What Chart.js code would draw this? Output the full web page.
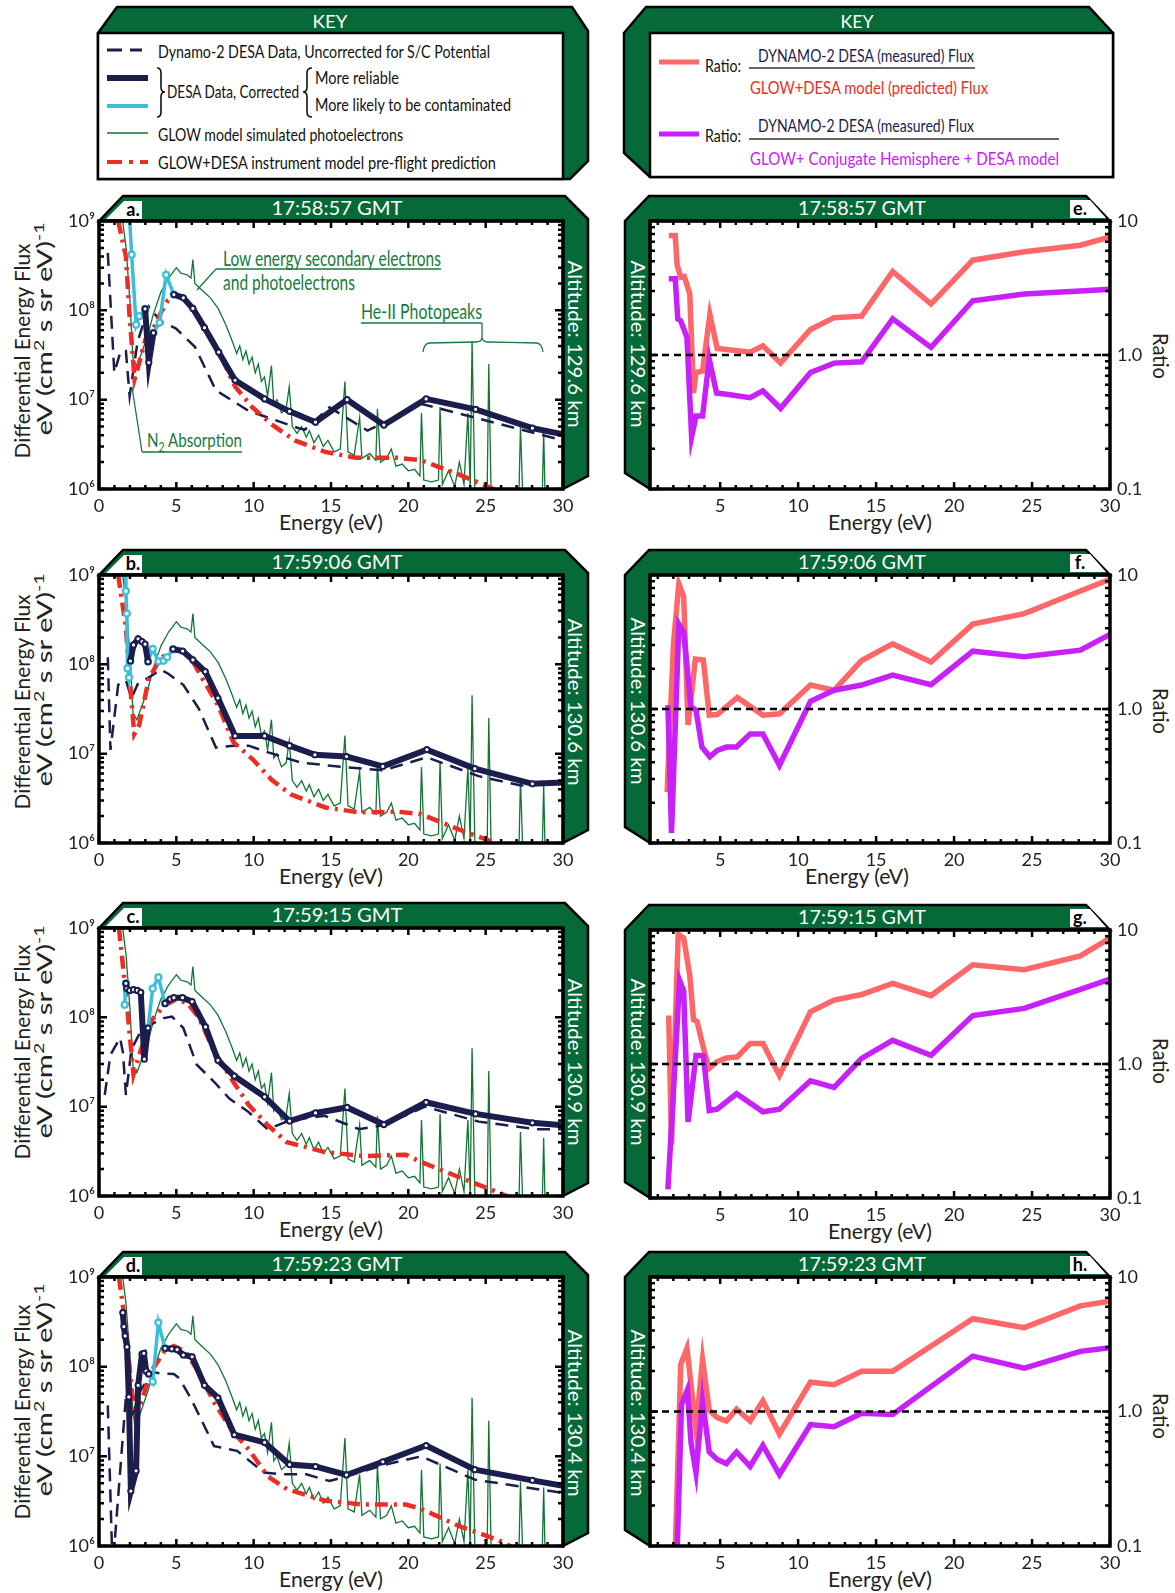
<!DOCTYPE html>
<html><head><meta charset="utf-8">
<script src="https://cdn.jsdelivr.net/npm/chart.js@4.4.1/dist/chart.umd.min.js"></script>
<style>
html,body{margin:0;padding:0;background:#fff;}
#wrap{position:relative;width:1175px;height:1593px;overflow:hidden;background:#fff;}
#bg{position:absolute;left:0;top:0;}
canvas{position:absolute;}
</style></head><body>
<div id="wrap"><svg id="bg" width="1175" height="1593" xmlns="http://www.w3.org/2000/svg"></svg></div>
<script>
// ---------------- DATA ----------------
const energyTicks = [0, 5, 10, 15, 20, 25, 30];
const ratioETicks = [5, 10, 15, 20, 25, 30];
const fluxTicks = [1e6, 1e7, 1e8, 1e9];
const fluxTickLabels = ['10⁶', '10⁷', '10⁸', '10⁹'];
const ratioTicks = [0.1, 1, 10];
const ratioTickLabels = ['0.1', '1.0', '10'];

const times = ['17:58:57 GMT', '17:59:06 GMT', '17:59:15 GMT', '17:59:23 GMT'];
const altitudes = ['Altitude: 129.6 km', 'Altitude: 130.6 km', 'Altitude: 130.9 km', 'Altitude: 130.4 km'];
const leftLetters = ['a.', 'b.', 'c.', 'd.'];
const rightLetters = ['e.', 'f.', 'g.', 'h.'];

// GLOW model simulated photoelectrons (same model curve in all four flux panels)
const greenE = [1.5, 1.75, 2.0, 2.2, 2.45, 2.8, 3.2, 3.5, 4.0, 4.5, 5.0, 5.3, 5.7, 5.95, 6.07, 6.2, 6.7, 7.2, 7.7, 8.2, 8.6, 8.9, 9.1, 9.3, 9.5, 9.7, 9.9, 10.1, 10.3, 10.5, 10.7, 10.9, 11.15, 11.3, 11.5, 11.8, 12.1, 12.3, 12.5, 12.8, 13.1, 13.4, 13.6, 13.9, 14.2, 14.5, 14.8, 15.2, 15.6, 15.9, 16.1, 16.5, 16.85, 17.0, 17.5, 17.9, 18.0, 18.2, 18.6, 18.9, 19.2, 19.6, 20.0, 20.4, 20.75, 20.85, 21.0, 21.5, 21.95, 22.05, 22.2, 22.6, 23.0, 23.3, 23.6, 23.85, 24.0, 24.12, 24.3, 24.7, 25.1, 25.2, 25.35, 25.8, 26.3, 26.8, 27.15, 27.25, 27.4, 28.0, 28.65, 28.75, 28.85, 30];
const greenF = [1.1e9, 5.0e8, 1.26e8, 2.8e7, 2.4e7, 3.5e7, 5.6e7, 8.9e7, 1.6e8, 2.3e8, 3.0e8, 2.6e8, 2.5e8, 2.3e8, 3.7e8, 2.0e8, 1.66e8, 1.38e8, 1.05e8, 6.9e7, 4.6e7, 3.3e7, 4.0e7, 2.8e7, 3.5e7, 2.5e7, 3.0e7, 2.0e7, 2.5e7, 1.6e7, 1.8e7, 1.1e7, 2.4e7, 8.9e6, 1.0e7, 7.1e6, 7.9e6, 1.4e7, 5.0e6, 4.2e6, 5.0e6, 3.8e6, 4.5e6, 3.3e6, 4.0e6, 3.0e6, 3.5e6, 2.6e6, 2.8e6, 1.6e7, 2.6e6, 2.4e6, 6.3e6, 2.2e6, 2.5e6, 2.1e6, 7.9e6, 2.0e6, 2.2e6, 2.8e6, 1.8e6, 1.9e6, 1.6e6, 1.66e6, 1.4e6, 7.1e6, 1.26e6, 1.2e6, 1.26e6, 8.3e6, 1.12e6, 1.6e6, 1.07e6, 2.0e6, 1.12e6, 7.1e6, 1.0e6, 4.5e7, 1.0e6, 9.5e5, 1.0e6, 2.5e7, 9.3e5, 8.9e5, 9.5e5, 8.9e5, 8.3e5, 5.2e6, 7.9e5, 7.9e5, 7.1e5, 4.5e6, 7.1e5, 6.3e5];

// Panel a
const aDashE = [0.57, 0.99, 1.4, 1.74, 1.98, 2.5, 3.22, 4.0, 4.96, 6.2, 7.56, 9.67, 12.9, 13.3, 14.9, 17.36, 19.1, 20.8, 24.3, 30];
const aDashF = [4.4e8, 2.0e7, 3.5e7, 3.5e7, 1.1e7, 4.5e7, 1.1e8, 7.5e7, 6.3e7, 3.9e7, 1.27e7, 7.5e6, 4.8e6, 4.6e6, 8.2e6, 4.5e6, 6.3e6, 9.0e6, 6.3e6, 3.5e6];
const aNavyE = [2.98, 3.22, 3.52, 4.2, 4.84, 5.45, 6.07, 6.82, 7.74, 8.80, 10.71, 12.32, 14.0, 16.04, 18.42, 21.15, 24.35, 28.02, 30.0];
const aNavyF = [1.04e8, 2.6e7, 5.6e7, null, 1.5e8, 1.38e8, 1.05e8, 6.4e7, 3.4e7, 1.65e7, 1.02e7, 7.4e6, 5.6e6, 1.0e7, 5.2e6, 1.02e7, 7.8e6, 4.8e6, 4.1e6];
const aCyanE = [1.95, 2.11, 2.40, 2.60, 2.98, 3.3, 3.52, 3.92, 4.34, 4.84];
const aCyanF = [1.3e9, 4.2e8, 6.9e7, 8.6e7, 1.04e8, null, 5.6e7, 7.3e7, 2.5e8, 1.5e8];
const aRedE = [1.24, 1.74, 1.98, 2.3, 2.6, 3.0, 3.47, 4.0, 4.46, 4.96, 5.5, 6.45, 7.69, 8.8, 9.92, 11.16, 12.65, 14.63, 16.6, 19.3, 20.8, 23.3, 25.5, 26.5];
const aRedF = [1.0e9, 4.0e8, 8.5e7, 1.7e7, 2.6e7, 4.7e7, 6.0e7, 9.4e7, 1.3e8, 1.5e8, 1.4e8, 8.5e7, 3.6e7, 1.4e7, 8.2e6, 5.3e6, 3.5e6, 2.6e6, 2.24e6, 2.24e6, 2.1e6, 1.45e6, 1.0e6, 8.5e5];

// Panel b
const bDashE = [0.57, 0.74, 1.24, 1.74, 2.1, 2.5, 3.47, 3.97, 4.46, 5.45, 6.45, 7.56, 8.68, 9.67, 10.9, 13.1, 15.8, 18.35, 21.2, 24.55, 27.3, 30];
const bDashF = [1.2e8, 1.1e7, 5.9e7, 6.6e7, 4.2e7, 6.0e7, 7.6e7, 8.7e7, 7.9e7, 5.9e7, 3.2e7, 1.17e7, 1.23e7, 1.23e7, 1.04e7, 7.9e6, 7.1e6, 6.5e6, 9.1e6, 5.6e6, 4.4e6, 4.7e6];
const bNavyE = [2.03, 2.23, 2.53, 2.78, 2.98, 3.17, 4.0, 4.79, 5.41, 6.07, 6.87, 7.69, 8.80, 10.71, 12.32, 13.96, 16.0, 18.35, 21.2, 24.3, 28.02, 30];
const bNavyF = [1.09e8, 1.65e8, 1.93e8, 1.8e8, 1.68e8, 1.07e8, null, 1.48e8, 1.41e8, 1.12e8, 8.3e7, 4.2e7, 1.58e7, 1.58e7, 1.23e7, 9.7e6, 9.3e6, 7.2e6, 1.11e7, 6.8e6, 4.6e6, 4.75e6];
const bCyanE = [1.72, 1.74, 1.80, 1.84, 1.94, 2.03, 2.6, 3.17, 3.47, 3.85, 4.17, 4.4, 4.79];
const bCyanF = [1.3e9, 6.6e8, 3.7e8, 9.0e7, 7.1e7, 1.09e8, null, 1.07e8, 1.49e8, 1.08e8, 1.1e8, 1.2e8, 1.48e8];
const bRedE = [1.24, 1.74, 1.98, 2.28, 2.6, 3.22, 3.97, 4.71, 5.21, 5.95, 6.69, 7.69, 8.68, 9.92, 11.16, 12.4, 14.63, 16.86, 19.34, 20.83, 23.3, 25.66, 26.5];
const bRedF = [1.0e9, 2.6e8, 6.9e7, 1.66e7, 2.1e7, 6.9e7, 1.17e8, 1.41e8, 1.45e8, 1.17e8, 6.9e7, 3.5e7, 1.35e7, 8.7e6, 5.1e6, 3.5e6, 2.5e6, 2.2e6, 2.24e6, 2.1e6, 1.41e6, 1.0e6, 8.9e5];

// Panel c
const cDashE = [0.37, 0.74, 1.36, 1.55, 1.74, 2.1, 2.7, 3.47, 4.2, 4.71, 5.45, 6.32, 7.44, 8.43, 9.67, 10.9, 12.4, 14.6, 16.8, 18.35, 21.08, 24.55, 28.26, 30];
const cDashF = [1.35e7, 3.8e7, 5.9e7, 4.0e7, 1.35e7, 4.4e7, 7.0e7, 8.5e7, 9.8e7, 1.02e8, 7.6e7, 2.95e7, 1.9e7, 1.23e7, 8.7e6, 5.6e6, 7.1e6, 7.9e6, 5.6e6, 6.2e6, 1.0e7, 6.8e6, 5.6e6, 5.6e6];
const cNavyE = [1.74, 1.80, 1.98, 2.23, 2.48, 2.7, 2.93, 3.17, 3.7, 4.27, 4.6, 4.84, 5.4, 6.02, 6.89, 7.69, 8.75, 10.71, 12.32, 14.0, 16.04, 18.42, 21.15, 24.35, 28.02, 30];
const cNavyF = [2.4e8, 2.1e8, 2.0e8, 2.04e8, 2.0e8, 1.9e8, 3.4e7, 7.6e7, null, 1.43e8, 1.6e8, 1.66e8, 1.66e8, 1.5e8, 7.8e7, 3.3e7, 2.2e7, 1.29e7, 6.9e6, 8.5e6, 9.8e6, 6.3e6, 1.12e7, 8.3e6, 6.6e6, 6.2e6];
const cCyanE = [1.66, 1.74, 2.5, 3.17, 3.47, 3.84, 4.27];
const cCyanF = [1.38e8, 2.4e8, null, 7.6e7, 2.1e8, 2.8e8, 1.43e8];
const cRedE = [1.29, 1.74, 2.23, 2.6, 3.35, 4.22, 4.96, 5.7, 6.45, 7.44, 8.68, 9.67, 10.91, 12.15, 14.63, 17.1, 19.84, 20.83, 23.3, 25.8, 26.9];
const cRedF = [1.0e9, 1.82e8, 2.3e7, 3.8e7, 9.1e7, 1.35e8, 1.58e8, 1.45e8, 1.0e8, 4.2e7, 1.9e7, 1.05e7, 6.2e6, 4.0e6, 3.1e6, 2.8e6, 2.9e6, 2.4e6, 1.62e6, 1.1e6, 9.1e5];

// Panel d
const dDashE = [0.57, 0.85, 0.95, 1.74, 2.1, 2.7, 3.47, 3.97, 4.84, 5.2, 5.95, 7.44, 8.93, 10.66, 11.9, 13.4, 14.9, 16.0, 18.4, 20.83, 24.3, 30];
const dDashF = [3.7e7, 8e5, 8e5, 4.6e7, 2.6e7, 5.5e7, 8.7e7, 8.4e7, 8.3e7, 7.4e7, 4.4e7, 1.3e7, 1.15e7, 6.6e6, 6.3e6, 6.3e6, 5.3e6, 6.0e6, 8.0e6, 1.0e7, 5.5e6, 3.9e6];
const dNavyE = [1.54, 1.61, 1.69, 1.81, 1.93, 2.06, 2.40, 2.53, 2.78, 2.90, 3.05, 3.22, 3.8, 4.27, 4.71, 5.05, 5.45, 6.02, 6.82, 7.69, 8.75, 10.71, 12.32, 14.0, 16.0, 18.35, 21.15, 24.3, 28.02, 30];
const dNavyF = [4.0e8, 2.8e8, 2.2e8, 1.66e8, 4.6e7, 4.1e6, 6.9e6, 6.2e7, 1.38e8, 1.41e8, 8.9e7, 8.3e7, null, 1.6e8, 1.58e8, 1.55e8, 1.35e8, 1.29e8, 6.2e7, 4.5e7, 1.74e7, 1.43e7, 8.1e6, 7.7e6, 6.2e6, 8.7e6, 1.32e7, 7.1e6, 5.4e6, 4.7e6];
const dCyanE = [3.22, 3.47, 3.84, 4.27];
const dCyanF = [8.3e7, 6.8e7, 3.1e8, 1.6e8];
const dRedE = [1.29, 1.74, 2.1, 2.36, 2.73, 3.35, 4.22, 4.84, 5.58, 6.45, 7.44, 8.68, 9.67, 10.91, 12.15, 14.63, 17.1, 19.84, 20.83, 23.3, 25.8, 26.9];
const dRedF = [1.0e9, 2.7e8, 5.8e7, 2.6e7, 4.0e7, 8.7e7, 1.48e8, 1.7e8, 1.48e8, 8.7e7, 4.0e7, 1.86e7, 1.2e7, 6.0e6, 4.3e6, 3.2e6, 2.9e6, 2.9e6, 2.6e6, 1.66e6, 1.17e6, 9.3e5];

// Ratio panels
const refE = [0.5, 30];
const refR = [1, 1];
const eSalE = [1.70, 2.0, 2.12, 2.24, 2.47, 2.7, 3.05, 3.29, 3.45, 3.87, 4.34, 4.81, 5.4, 6.92, 7.74, 8.87, 10.79, 12.3, 14.07, 16.06, 18.52, 21.2, 24.5, 28.1, 30];
const eSalR = [7.8, 7.8, 7.8, 4.7, 3.8, 3.85, 2.85, 0.52, 0.74, 0.76, 2.0, 1.12, 1.1, 1.05, 1.17, 0.87, 1.55, 1.9, 1.95, 4.2, 2.4, 5.1, 5.9, 6.6, 7.6];
const ePurE = [1.70, 2.12, 2.28, 2.47, 2.87, 3.17, 3.45, 3.87, 4.3, 4.77, 5.4, 6.92, 7.74, 8.87, 10.79, 12.3, 14.07, 16.06, 18.52, 21.2, 24.5, 28.1, 30];
const ePurR = [3.7, 3.7, 1.86, 1.8, 1.35, 0.245, 0.35, 0.35, 0.93, 0.52, 0.51, 0.48, 0.54, 0.40, 0.74, 0.87, 0.89, 1.86, 1.14, 2.54, 2.85, 3.0, 3.1];
const fSalE = [1.60, 2.0, 2.35, 2.66, 2.94, 3.41, 3.92, 4.3, 4.81, 6.1, 7.74, 8.8, 10.79, 12.3, 14.07, 16.06, 18.52, 21.2, 24.5, 28.1, 30];
const fSalR = [0.24, 3.0, 8.6, 6.9, 0.76, 2.36, 2.32, 0.90, 0.91, 1.22, 0.90, 0.92, 1.51, 1.38, 2.3, 3.06, 2.24, 4.3, 5.15, 7.6, 9.3];
const fPurE = [1.65, 1.88, 2.35, 2.66, 3.13, 3.45, 3.83, 4.34, 4.81, 5.4, 6.05, 6.92, 7.74, 8.8, 10.79, 12.3, 14.07, 16.06, 18.52, 21.2, 24.5, 28.1, 30];
const fPurR = [1.07, 0.119, 4.3, 3.75, 1.04, 0.98, 0.52, 0.44, 0.49, 0.52, 0.52, 0.65, 0.65, 0.38, 1.14, 1.38, 1.51, 1.79, 1.52, 2.7, 2.45, 2.75, 3.6];
const gSalE = [1.70, 1.88, 2.31, 2.66, 3.05, 3.29, 3.52, 3.99, 4.3, 4.81, 5.4, 6.1, 6.92, 7.74, 8.8, 10.79, 12.3, 14.07, 16.06, 18.52, 21.2, 24.5, 28.1, 30];
const gSalR = [2.3, 0.25, 9.3, 8.7, 4.6, 2.14, 2.07, 1.23, 0.93, 1.04, 1.11, 1.13, 1.42, 1.42, 0.82, 2.45, 3.0, 3.3, 4.0, 3.24, 5.5, 5.05, 6.4, 8.7];
const gPurE = [1.65, 2.4, 2.66, 2.94, 3.45, 3.92, 4.3, 4.81, 6.05, 7.74, 8.8, 10.79, 12.3, 14.07, 16.06, 18.52, 21.2, 24.5, 28.1, 30];
const gPurR = [0.116, 4.2, 3.5, 0.37, 1.16, 1.15, 0.45, 0.46, 0.6, 0.44, 0.46, 0.75, 0.67, 1.1, 1.5, 1.16, 2.3, 2.6, 3.6, 4.3];
const hSalE = [2.12, 2.47, 2.87, 3.45, 3.87, 4.3, 4.81, 5.4, 6.05, 6.92, 7.74, 8.8, 10.79, 12.3, 14.07, 16.06, 21.2, 24.5, 28.1, 30];
const hSalR = [0.09, 2.24, 2.95, 0.74, 2.43, 1.02, 0.9, 0.85, 1.04, 0.85, 1.2, 0.68, 1.65, 1.58, 1.99, 1.99, 4.9, 4.2, 6.1, 6.6];
const hPurE = [2.24, 2.52, 2.9, 3.13, 3.45, 3.87, 4.3, 4.81, 5.4, 6.05, 6.92, 7.74, 8.8, 10.79, 12.3, 14.07, 16.06, 21.2, 24.5, 28.1, 30];
const hPurR = [0.09, 1.12, 1.45, 0.59, 0.35, 1.2, 0.50, 0.44, 0.41, 0.50, 0.39, 0.56, 0.34, 0.80, 0.77, 0.97, 0.95, 2.58, 2.1, 2.8, 2.98];

// ---------------- STYLE ----------------
const FONT = "Lato, 'DejaVu Sans', sans-serif";
const GREENF = '#056a38';
const NAVY = '#1b1d4d';
const CYAN = '#3bbfd8';
const GLINE = '#127534';
const RED = '#ec2c25';
const SALMON = '#fd6767';
const PURPLE = '#c820f8';
const AGREEN = '#167a3c';
const TXT = '#222';

const wrap = document.getElementById('wrap');
const svg = document.getElementById('bg');
const NS = 'http://www.w3.org/2000/svg';

function el(tag, attrs, parent) {
  const e = document.createElementNS(NS, tag);
  for (const k in attrs) e.setAttribute(k, attrs[k]);
  (parent || svg).appendChild(e);
  return e;
}
function poly(points, fill, stroke, sw) {
  return el('polygon', {points: points.map(p => p.join(',')).join(' '), fill: fill, stroke: stroke, 'stroke-width': sw, 'stroke-linejoin': 'miter'});
}
function line(x1, y1, x2, y2, stroke, sw, dash) {
  const a = {x1, y1, x2, y2, stroke, 'stroke-width': sw};
  if (dash) a['stroke-dasharray'] = dash;
  return el('line', a);
}
function path(d, stroke, sw) { return el('path', {d, stroke, 'stroke-width': sw, fill: 'none'}); }
function text(x, y, segs, o) {
  o = o || {};
  const a = {'font-family': FONT, 'font-size': o.size || 18, fill: o.fill || TXT};
  if (o.anchor) a['text-anchor'] = o.anchor;
  if (o.weight) a['font-weight'] = o.weight;
  if (o.len) { a.textLength = o.len; a.lengthAdjust = 'spacingAndGlyphs'; }
  if (o.rot) { a.transform = `translate(${x},${y}) rotate(${o.rot})`; a.x = 0; a.y = 0; }
  else { a.x = x; a.y = y; }
  const t = el('text', a);
  if (typeof segs === 'string') t.textContent = segs;
  else segs.forEach(s => {
    const ts = document.createElementNS(NS, 'tspan');
    if (s.dy) ts.setAttribute('dy', s.dy);
    if (s.size) ts.setAttribute('font-size', s.size);
    ts.textContent = s.t;
    t.appendChild(ts);
  });
  return t;
}

// ---------------- KEYS ----------------
poly([[98,33],[117,7],[572,7],[588,31],[588,161],[570,179],[98,179]], GREENF, '#000', 2.5);
el('rect', {x: 98, y: 33, width: 465, height: 146, fill: '#fff', stroke: '#000', 'stroke-width': 2.5});
text(330, 28, 'KEY', {size: 18, fill: '#fff', anchor: 'middle', len: 35});
line(107, 50, 142, 50, NAVY, 3, '15,8');
line(107, 78, 148, 78, NAVY, 6);
line(107, 106, 148, 106, CYAN, 4);
line(107, 133, 148, 133, GLINE, 1.5);
line(107, 162, 148, 162, RED, 4, '15,7,4,7');
text(158, 58, 'Dynamo-2 DESA Data, Uncorrected for S/C Potential', {size: 18, len: 332, fill: '#111'});
path('M157,68 Q161,68 161,73 L161,87 Q161,92 165,92 Q161,92 161,97 L161,112 Q161,117 157,117', '#111', 1.6);
text(167, 98, 'DESA Data, Corrected', {size: 18, len: 132, fill: '#111'});
path('M312,68 Q307,68 307,73 L307,87 Q307,92 303,92 Q307,92 307,97 L307,112 Q307,117 312,117', '#111', 1.6);
text(315, 84, 'More reliable', {size: 18, len: 84, fill: '#111'});
text(315, 111, 'More likely to be contaminated', {size: 18, len: 196, fill: '#111'});
text(158, 141, 'GLOW model simulated photoelectrons', {size: 18, len: 245, fill: '#111'});
text(158, 169, 'GLOW+DESA instrument model pre-flight prediction', {size: 18, len: 338, fill: '#111'});

poly([[624,33],[646,7],[1089,7],[1113,33],[1113,177],[650,177],[624,153]], GREENF, '#000', 2.5);
el('rect', {x: 650, y: 33, width: 463, height: 144, fill: '#fff', stroke: '#000', 'stroke-width': 2.5});
text(857, 28, 'KEY', {size: 18, fill: '#fff', anchor: 'middle', len: 33});
line(659, 62, 699, 62, SALMON, 5);
line(659, 134, 699, 134, PURPLE, 5);
text(705, 72, 'Ratio:', {size: 18, len: 36, fill: '#111'});
text(758, 62, 'DYNAMO-2 DESA (measured) Flux', {size: 18, len: 216, fill: NAVY});
line(749, 68, 975, 68, '#333', 1.3);
text(750, 94, 'GLOW+DESA model (predicted) Flux', {size: 18, len: 238, fill: RED});
text(705, 142, 'Ratio:', {size: 18, len: 36, fill: '#111'});
text(758, 132, 'DYNAMO-2 DESA (measured) Flux', {size: 18, len: 216, fill: NAVY});
line(749, 139, 1059, 139, '#333', 1.3);
text(750, 165, 'GLOW+ Conjugate Hemisphere + DESA model', {size: 18, len: 309, fill: PURPLE});

// ---------------- PANELS ----------------
const leftPanels = [
  {L: 99, R: 563, T: 221, B: 489, altC: 123, y1C: 130, y2C: 108},
  {L: 99, R: 563, T: 575, B: 843, altC: 127, y1C: 127, y2C: 105},
  {L: 99, R: 563, T: 928, B: 1196, altC: 134, y1C: 124, y2C: 104},
  {L: 99, R: 563, T: 1277, B: 1546, altC: 136, y1C: 135, y2C: 113},
];
const rightPanels = [
  {L: 650, R: 1110, T: 221, B: 489, altC: 123, ratC: 135, exC: 880},
  {L: 650, R: 1110, T: 575, B: 843, altC: 126, ratC: 136, exC: 857},
  {L: 650, R: 1110, T: 930, B: 1198, altC: 132, ratC: 131, exC: 880},
  {L: 650, R: 1110, T: 1277, B: 1546, altC: 136, ratC: 139, exC: 880},
];

function leftFrame(p, i) {
  const {L, R, T, B} = p;
  poly([[L,T],[L+24,T-25],[R+2,T-25],[R+25,T-2],[R+25,B-13],[R,B],[R,T]], GREENF, '#000', 2.5);
  poly([[L+7,T-2],[L+25,T-20],[L+43,T-20],[L+43,T-2]], '#fff', 'none', 0);
  text(L+34, T-5, leftLetters[i], {size: 18, weight: 'bold', fill: '#000', anchor: 'middle'});
  text(L+238, T-6, times[i], {size: 19, fill: '#fff', anchor: 'middle', len: 131});
  text(R+5, T+p.altC, altitudes[i], {size: 19, fill: '#fff', anchor: 'middle', rot: 90, len: 167});
  text(30, T+p.y1C, 'Differential Energy Flux', {size: 21, anchor: 'middle', rot: -90, len: 215});
  text(52, T+p.y2C, [{t: 'eV (cm'}, {t: '2', dy: -8, size: 14}, {t: ' s sr eV)', dy: 8}, {t: '-1', dy: -8, size: 14}], {size: 21, anchor: 'middle', rot: -90, len: 213});
  text(331, B+41, 'Energy (eV)', {size: 21, anchor: 'middle', len: 104});
}
function rightFrame(p, i) {
  const {L, R, T, B} = p;
  poly([[L,B],[L-25,B-16],[L-25,T],[L-1,T-25],[R-24,T-25],[R,T],[L,T]], GREENF, '#000', 2.5);
  poly([[R-40,T-21],[R-20,T-21],[R-4,T-3],[R-40,T-3]], '#fff', 'none', 0);
  text(R-30, T-6, rightLetters[i], {size: 18, weight: 'bold', fill: '#000', anchor: 'middle'});
  text(L+212, T-6, times[i], {size: 19, fill: '#fff', anchor: 'middle', len: 128});
  text(L-19, T+p.altC, altitudes[i], {size: 19, fill: '#fff', anchor: 'middle', rot: 90, len: 167});
  text(1153, T+p.ratC, 'Ratio', {size: 21, anchor: 'middle', rot: 90, len: 46});
  text(p.exC, B+41, 'Energy (eV)', {size: 21, anchor: 'middle', len: 104});
}
leftPanels.forEach(leftFrame);
rightPanels.forEach(rightFrame);

// annotations (panel a)
text(223, 266, 'Low energy secondary electrons', {size: 21, fill: AGREEN, len: 218});
text(223, 290, 'and photoelectrons', {size: 21, fill: AGREEN, len: 132});
line(216, 269, 441, 269, AGREEN, 1.3);
line(197, 290, 216, 269, AGREEN, 1.3);
text(361, 319, 'He-II Photopeaks', {size: 21, fill: AGREEN, len: 121});
line(361, 323, 482, 323, AGREEN, 1.3);
path('M482,323 L482,337 Q482,342 476,342 L429,343 Q424,344 423,352 M482,337 Q482,342 488,342 L537,343 Q542,344 543,352', AGREEN, 1.3);
text(147, 447, [{t: 'N'}, {t: '2', dy: 5, size: 14}, {t: ' Absorption', dy: -5}], {size: 20, fill: AGREEN, len: 95});
line(142, 452, 242, 452, AGREEN, 1.3);
line(132, 387, 142, 452, AGREEN, 1.3);

// ---------------- CHARTS ----------------
function pts(E, V) { return E.map((e, i) => ({x: e, y: V[i]})); }

const inTicks = {
  id: 'inTicks',
  afterDatasetsDraw(chart) {
    const {ctx, chartArea: a} = chart;
    const xs = chart.scales.x, ys = chart.scales.y;
    ctx.save();
    ctx.strokeStyle = '#000'; ctx.lineWidth = 2.5; ctx.lineCap = 'butt';
    ctx.beginPath();
    for (let v = Math.ceil(xs.min); v <= xs.max; v++) {
      const px = xs.getPixelForValue(v);
      const len = v % 5 === 0 ? 7 : 4;
      ctx.moveTo(px, a.bottom); ctx.lineTo(px, a.bottom - len);
      ctx.moveTo(px, a.top); ctx.lineTo(px, a.top + len);
    }
    const d0 = Math.round(Math.log10(ys.min)), d1 = Math.round(Math.log10(ys.max));
    for (let d = d0; d < d1; d++) {
      for (let k = 1; k <= 9; k++) {
        const py = ys.getPixelForValue(k * Math.pow(10, d));
        const len = k === 1 ? 8 : 5;
        ctx.moveTo(a.left, py); ctx.lineTo(a.left + len, py);
        ctx.moveTo(a.right, py); ctx.lineTo(a.right - len, py);
      }
    }
    ctx.stroke();
    ctx.lineWidth = 3.5;
    ctx.strokeRect(a.left, a.top, a.right - a.left, a.bottom - a.top);
    ctx.restore();
  }
};

function makeCanvas(left, top, w, h) {
  const c = document.createElement('canvas');
  c.width = w; c.height = h;
  c.style.left = left + 'px'; c.style.top = top + 'px';
  c.style.width = w + 'px'; c.style.height = h + 'px';
  wrap.appendChild(c);
  return c;
}
const tickFont = {family: FONT, size: 18};
const common = {responsive: false, animation: false, devicePixelRatio: 1, events: [],
  plugins: {legend: {display: false}, tooltip: {enabled: false}}};
const lineDefaults = {tension: 0, clip: 0, spanGaps: false, borderJoinStyle: 'miter', borderCapStyle: 'butt', pointHoverRadius: 0};

function fluxChart(p, d) {
  const W = 600, padTop = 40, xH = 48;
  const H = padTop + (p.B - p.T) + xH;
  const c = makeCanvas(0, p.T - padTop, W, H);
  const mk = (o) => Object.assign({}, lineDefaults, o);
  new Chart(c, {
    type: 'line',
    data: {datasets: [
      mk({data: pts(d.navyE, d.navyF), borderColor: NAVY, borderWidth: 6, pointRadius: ctx => (ctx.raw && ctx.raw.x >= 30) ? 0 : 2.6, pointBorderWidth: 2, pointBorderColor: NAVY, pointBackgroundColor: '#fff', order: 1}),
      mk({data: pts(d.cyanE, d.cyanF), borderColor: CYAN, borderWidth: 3.5, pointRadius: 3, pointBorderWidth: 2.2, pointBorderColor: CYAN, pointBackgroundColor: '#fff', order: 2}),
      mk({data: pts(d.redE, d.redF), borderColor: RED, borderWidth: 4.5, borderDash: [13, 6, 3, 6], pointRadius: 0, order: 3}),
      mk({data: pts(d.dashE, d.dashF), borderColor: NAVY, borderWidth: 2.5, borderDash: [13, 8], pointRadius: 0, order: 4}),
      mk({data: pts(greenE, greenF), borderColor: GLINE, borderWidth: 1.3, pointRadius: 0, order: 5}),
    ]},
    options: Object.assign({}, common, {
      layout: {padding: {left: 0, right: W - p.R, top: padTop, bottom: 0}},
      scales: {
        x: {type: 'linear', min: 0, max: 30, position: 'bottom',
            afterFit: s => { s.height = xH; },
            afterBuildTicks: s => { s.ticks = energyTicks.map(v => ({value: v})); },
            grid: {display: false, drawTicks: false}, border: {display: false},
            ticks: {font: tickFont, color: TXT, padding: 6, maxRotation: 0, autoSkip: false, callback: v => String(v)}},
        y: {type: 'logarithmic', min: 1e6, max: 1e9, position: 'left',
            afterFit: s => { s.width = p.L; },
            afterBuildTicks: s => { s.ticks = fluxTicks.map(v => ({value: v})); },
            grid: {display: false, drawTicks: false}, border: {display: false},
            ticks: {font: tickFont, color: TXT, padding: 4, autoSkip: false,
                    callback: v => { const i = fluxTicks.findIndex(t => Math.abs(t - v) / t < 1e-6); return i >= 0 ? fluxTickLabels[i] : ''; }}}
      }
    }),
    plugins: [inTicks]
  });
}

function ratioChart(p, d) {
  const left = 600, W = 575, padTop = 40, xH = 48, yW = 44;
  const H = padTop + (p.B - p.T) + xH;
  const c = makeCanvas(left, p.T - padTop, W, H);
  const mk = (o) => Object.assign({}, lineDefaults, o);
  new Chart(c, {
    type: 'line',
    data: {datasets: [
      mk({data: pts(refE, refR), borderColor: '#000', borderWidth: 2.6, borderDash: [7, 5], pointRadius: 0, order: 1}),
      mk({data: pts(d.purE, d.purR), borderColor: PURPLE, borderWidth: 5.5, pointRadius: 0, order: 2}),
      mk({data: pts(d.salE, d.salR), borderColor: SALMON, borderWidth: 5.5, pointRadius: 0, order: 3}),
    ]},
    options: Object.assign({}, common, {
      layout: {padding: {left: p.L - left, right: W - (p.R - left) - yW, top: padTop, bottom: 0}},
      scales: {
        x: {type: 'linear', min: 0.5, max: 30, position: 'bottom',
            afterFit: s => { s.height = xH; },
            afterBuildTicks: s => { s.ticks = ratioETicks.map(v => ({value: v})); },
            grid: {display: false, drawTicks: false}, border: {display: false},
            ticks: {font: tickFont, color: TXT, padding: 6, maxRotation: 0, autoSkip: false, callback: v => String(v)}},
        y: {type: 'logarithmic', min: 0.1, max: 10, position: 'right',
            afterFit: s => { s.width = yW; },
            afterBuildTicks: s => { s.ticks = ratioTicks.map(v => ({value: v})); },
            grid: {display: false, drawTicks: false}, border: {display: false},
            ticks: {font: tickFont, color: TXT, padding: 7, autoSkip: false,
                    callback: v => { const i = ratioTicks.findIndex(t => Math.abs(t - v) / t < 1e-6); return i >= 0 ? ratioTickLabels[i] : ''; }}}
      }
    }),
    plugins: [inTicks]
  });
}

const fluxSets = [
  {dashE: aDashE, dashF: aDashF, navyE: aNavyE, navyF: aNavyF, cyanE: aCyanE, cyanF: aCyanF, redE: aRedE, redF: aRedF},
  {dashE: bDashE, dashF: bDashF, navyE: bNavyE, navyF: bNavyF, cyanE: bCyanE, cyanF: bCyanF, redE: bRedE, redF: bRedF},
  {dashE: cDashE, dashF: cDashF, navyE: cNavyE, navyF: cNavyF, cyanE: cCyanE, cyanF: cCyanF, redE: cRedE, redF: cRedF},
  {dashE: dDashE, dashF: dDashF, navyE: dNavyE, navyF: dNavyF, cyanE: dCyanE, cyanF: dCyanF, redE: dRedE, redF: dRedF},
];
const ratioSets = [
  {salE: eSalE, salR: eSalR, purE: ePurE, purR: ePurR},
  {salE: fSalE, salR: fSalR, purE: fPurE, purR: fPurR},
  {salE: gSalE, salR: gSalR, purE: gPurE, purR: gPurR},
  {salE: hSalE, salR: hSalR, purE: hPurE, purR: hPurR},
];
leftPanels.forEach((p, i) => fluxChart(p, fluxSets[i]));
rightPanels.forEach((p, i) => ratioChart(p, ratioSets[i]));
</script>
</body></html>
